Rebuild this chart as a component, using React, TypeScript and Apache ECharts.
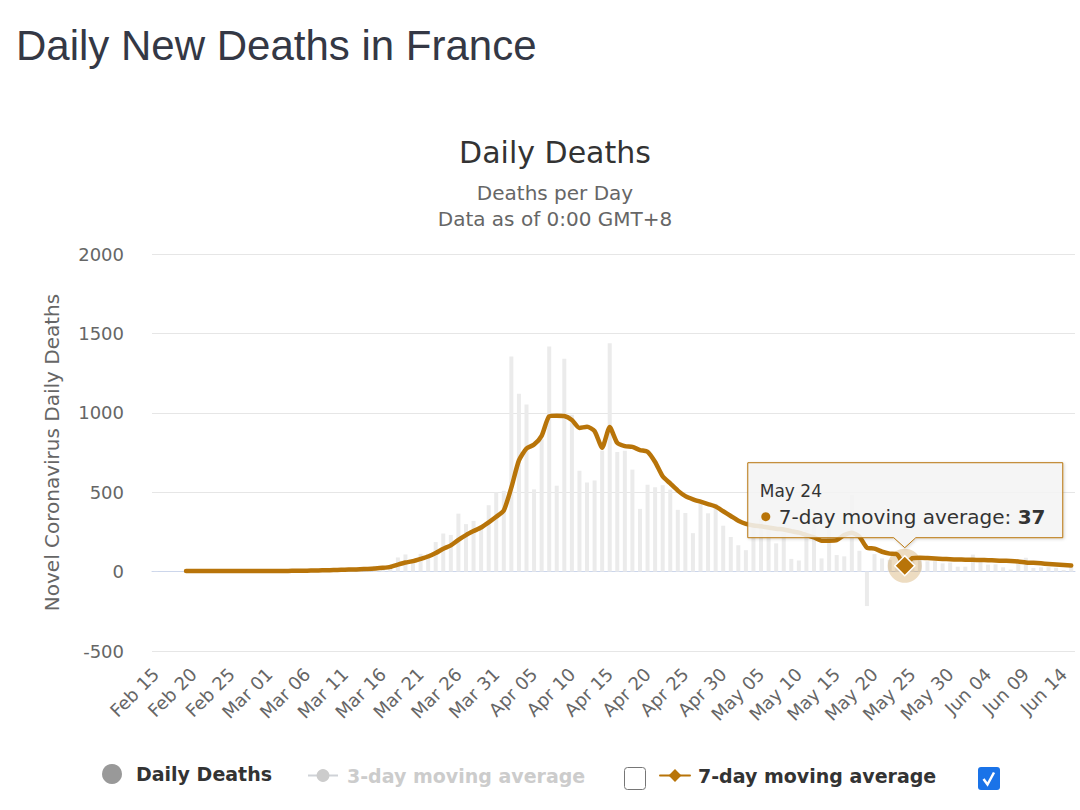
import { useEffect, useRef } from 'react';
import * as echarts from 'echarts';

const FONT = 'DejaVu Sans';
const BROWN = '#b87409';

// Category axis: Feb 15 .. Jun 15 (2020)
const MONTHS: [string, number, number][] = [
  ['Feb', 15, 29],
  ['Mar', 1, 31],
  ['Apr', 1, 30],
  ['May', 1, 31],
  ['Jun', 1, 15],
];
const dates: string[] = [];
MONTHS.forEach(([m, s, e]) => {
  for (let d = s; d <= e; d++) dates.push(`${m} ${String(d).padStart(2, '0')}`);
});

const dailyFeb = [1, 0, 0, 0, 0, 0, 0, 0, 0, 0, 0, 1, 0, 0, 0];
const dailyMar = [0, 1, 1, 0, 2, 3, 2, 8, 6, 8, 15, 13, 18, 12, 36, 21, 27, 89, 108, 78, 112, 112, 186, 240, 231, 365, 299, 319, 292, 418, 499];
const dailyApr = [509, 1355, 1120, 1053, 518, 833, 1417, 541, 1341, 987, 635, 561, 574, 762, 1438, 753, 761, 642, 395, 547, 531, 544, 516, 389, 369, 242, 437, 367, 427, 289];
const dailyMay = [218, 166, 135, 306, 330, 278, 178, 243, 80, 70, 263, 348, 83, 351, 104, 96, 483, 131, -217, 110, 83, 74, 43, 35, 90, 98, 65, 66, 52, 57, 31];
const dailyJun = [31, 107, 81, 44, 46, 27, 13, 54, 87, 23, 27, 28, 24, 10, 29];
const dailyDeaths = [...dailyFeb, ...dailyMar, ...dailyApr, ...dailyMay, ...dailyJun];

const avg7Feb = [null, null, null, null, 4, 4, 4, 4, 4, 4, 4, 4, 4, 4, 4];
const avg7Mar = [4, 4, 4, 5, 5, 6, 7, 8, 9, 10, 12, 13, 15, 17, 20, 24, 30, 44, 57, 66, 80, 95, 117, 144, 165, 200, 230, 255, 278, 310, 345];
const avg7Apr = [385, 530, 700, 775, 800, 855, 978, 982, 980, 955, 905, 912, 885, 780, 910, 810, 790, 785, 765, 755, 690, 600, 555, 510, 475, 455, 440, 425, 410, 380];
const avg7May = [350, 320, 300, 290, 285, 278, 270, 265, 255, 245, 230, 215, 195, 195, 198, 230, 245, 220, 150, 145, 125, 113, 108, 37, 85, 88, 85, 82, 80, 78, 76];
const avg7Jun = [75, 74, 73, 72, 70, 68, 67, 64, 58, 55, 52, 48, 45, 42, 38];
const avg7: (number | null)[] = [...avg7Feb, ...avg7Mar, ...avg7Apr, ...avg7May, ...avg7Jun];

const avg3: number[] = []; // hidden series (legend off)

const yTicks = { min: -500, max: 2000, interval: 500 };
const hoverDate = 'May 24';

export default function App() {
  const ref = useRef<HTMLDivElement>(null);

  useEffect(() => {
    if (!ref.current) return;
    const chart = echarts.init(ref.current, null, { renderer: 'svg' });
    const hoverIdx = dates.indexOf(hoverDate);
    const hoverVal = avg7[hoverIdx] as number;

    const legendText = { fontSize: 19, fontWeight: 'bold', color: '#333333', fontFamily: FONT };

    const option: any = {
      animation: false,
      backgroundColor: '#ffffff',
      textStyle: { fontFamily: FONT },
      grid: { left: 152, right: 5, top: 254, bottom: 159, containLabel: false },
      xAxis: {
        type: 'category',
        data: dates,
        boundaryGap: true,
        axisLine: { lineStyle: { color: '#ccd6eb', width: 1 } },
        axisTick: { show: false },
        axisLabel: { interval: 4, rotate: 45, fontSize: 18, color: '#666666', fontFamily: FONT, margin: 20 },
        splitLine: { show: false },
      },
      yAxis: {
        type: 'value',
        min: yTicks.min,
        max: yTicks.max,
        interval: yTicks.interval,
        axisLine: { show: false },
        axisTick: { show: false },
        axisLabel: {
          fontSize: 18,
          color: '#666666',
          fontFamily: FONT,
          margin: 28,
          formatter: (v: number) => String(v),
        },
        splitLine: { lineStyle: { color: '#e6e6e6', width: 1 } },
        name: 'Novel Coronavirus Daily Deaths',
        nameLocation: 'middle',
        nameGap: 90,
        nameTextStyle: { fontSize: 20, color: '#666666', fontFamily: FONT },
      },
      legend: [
        {
          data: [{ name: 'Daily Deaths', icon: 'circle', itemStyle: { color: '#999999' } }],
          left: 102,
          top: 764,
          padding: 0,
          itemWidth: 20,
          itemHeight: 20,
          selectedMode: false,
          textStyle: { ...legendText, padding: [0, 0, 0, 9] },
        },
        {
          data: ['3-day moving average'],
          left: 307,
          top: 766,
          padding: 0,
          itemWidth: 30,
          itemHeight: 16,
          inactiveColor: '#cccccc',
          selected: { '3-day moving average': false },
          textStyle: { ...legendText, padding: [0, 0, 0, 4] },
        },
        {
          data: ['7-day moving average'],
          left: 659,
          top: 766,
          padding: 0,
          itemWidth: 30,
          itemHeight: 16,
          textStyle: { ...legendText, padding: [0, 0, 0, 3] },
        },
      ],
      tooltip: { show: false },
      series: [
        {
          name: 'Daily Deaths',
          type: 'bar',
          data: dailyDeaths,
          barWidth: 4,
          itemStyle: { color: '#ebebeb' },
          silent: true,
          z: 1,
        },
        {
          name: '3-day moving average',
          type: 'line',
          data: avg3,
          symbol: 'circle',
          showSymbol: false,
          itemStyle: { color: '#cccccc' },
          lineStyle: { color: '#cccccc', width: 3 },
        },
        {
          name: '7-day moving average',
          type: 'line',
          data: avg7,
          symbol: 'diamond',
          showSymbol: false,
          connectNulls: false,
          smooth: 0.2,
          itemStyle: { color: BROWN },
          lineStyle: { color: BROWN, width: 4.5, join: 'round', cap: 'round' },
          silent: true,
          z: 3,
          markPoint: {
            silent: true,
            label: { show: false },
            data: [
              {
                coord: [hoverDate, hoverVal],
                symbol: 'circle',
                symbolSize: 34,
                itemStyle: { color: 'rgba(184,116,9,0.25)' },
              },
              {
                coord: [hoverDate, hoverVal],
                symbol: 'diamond',
                symbolSize: 20,
                itemStyle: { color: BROWN, borderColor: '#ffffff', borderWidth: 1.5 },
              },
            ],
          },
        },
      ],
    };

    chart.setOption(option);

    const [px, py] = chart.convertToPixel({ xAxisIndex: 0, yAxisIndex: 0 }, [hoverDate, hoverVal]) as number[];
    const L = px - 157;
    const R = px + 158;
    const T = py - 103;
    const B = py - 28;

    const graphic: any[] = [
      {
        type: 'text',
        x: 16,
        y: 45,
        style: {
          text: 'Daily New Deaths in France',
          fontSize: 42,
          fontFamily: 'Liberation Sans',
          fill: '#343845',
          align: 'left',
          verticalAlign: 'middle',
        },
      },
      {
        type: 'text',
        x: 555,
        y: 152,
        style: { text: 'Daily Deaths', fontSize: 30, fontFamily: FONT, fill: '#333333', align: 'center', verticalAlign: 'middle' },
      },
      {
        type: 'text',
        x: 555,
        y: 193,
        style: { text: 'Deaths per Day', fontSize: 20, fontFamily: FONT, fill: '#666666', align: 'center', verticalAlign: 'middle' },
      },
      {
        type: 'text',
        x: 555,
        y: 219,
        style: { text: 'Data as of 0:00 GMT+8', fontSize: 20, fontFamily: FONT, fill: '#666666', align: 'center', verticalAlign: 'middle' },
      },
      // checkboxes
      {
        type: 'rect',
        shape: { x: 624.5, y: 767.5, width: 21, height: 22, r: 3 },
        style: { fill: '#ffffff', stroke: '#767676', lineWidth: 1 },
      },
      {
        type: 'rect',
        shape: { x: 978, y: 767, width: 22, height: 23, r: 3 },
        style: { fill: '#1a73e8' },
      },
      {
        type: 'polyline',
        shape: { points: [[983.5, 779], [987.5, 784.5], [994, 772.5]] },
        style: { stroke: '#ffffff', lineWidth: 2.5, fill: 'none' },
      },
      // tooltip
      {
        type: 'polygon',
        z: 100,
        shape: {
          points: [[L, T], [R, T], [R, B], [px + 11, B], [px, py - 18], [px - 11, B], [L, B]],
        },
        style: {
          fill: 'rgba(247,247,247,0.85)',
          stroke: BROWN,
          lineWidth: 1,
          shadowBlur: 3,
          shadowOffsetX: 1,
          shadowOffsetY: 1,
          shadowColor: 'rgba(0,0,0,0.18)',
        },
      },
      {
        type: 'text',
        z: 101,
        x: L + 12,
        y: T + 28,
        style: { text: dates[hoverIdx], fontSize: 17, fontFamily: FONT, fill: '#333333', verticalAlign: 'middle' },
      },
      {
        type: 'circle',
        z: 101,
        shape: { cx: L + 18, cy: T + 54, r: 4.5 },
        style: { fill: BROWN },
      },
      {
        type: 'text',
        z: 101,
        x: L + 31,
        y: T + 54,
        style: {
          text: `{a|7-day moving average: }{b|${hoverVal}}`,
          verticalAlign: 'middle',
          rich: {
            a: { fontSize: 20, fontFamily: FONT, fill: '#333333', color: '#333333' },
            b: { fontSize: 20, fontFamily: FONT, fontWeight: 'bold', fill: '#333333', color: '#333333' },
          },
        },
      },
    ];

    chart.setOption({ graphic });

    return () => chart.dispose();
  }, []);

  return (
    <div
      ref={ref}
      style={{ position: 'absolute', left: 0, top: 0, width: 1080, height: 810 }}
    />
  );
}
